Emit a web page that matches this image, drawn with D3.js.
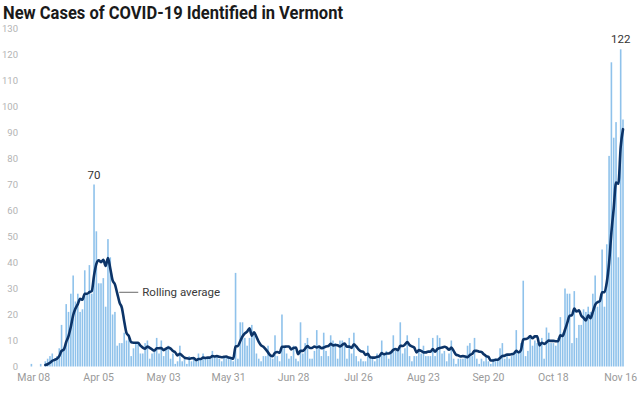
<!DOCTYPE html>
<html>
<head>
<meta charset="utf-8">
<script src="https://cdn.jsdelivr.net/npm/d3@7"></script>
<style>
  body { margin: 0; background: #fff; }
  svg { display: block; font-family: "Roboto", "DejaVu Sans", sans-serif; }
</style>
</head>
<body>
<svg width="640" height="393"></svg>
<script>
var title = "New Cases of COVID-19 Identified in Vermont";
var firstDay = "2020-03-07";

// daily new cases, one per day starting at firstDay
var cases = [
  1,0,0,0,1,0,2,3,4,5,
  3,4,7,16,7,24,21,28,35,25,
  28,21,22,37,28,39,28,70,52,32,
  32,34,23,49,42,20,21,8,9,9,
  13,10,12,4,7,9,9,5,5,9,
  10,3,5,6,11,5,10,4,7,8,
  3,5,1,2,8,2,3,1,4,2,
  3,2,5,3,5,3,3,3,6,4,
  4,3,2,4,4,3,3,2,36,3,
  17,17,11,8,11,16,12,5,3,2,
  4,4,8,4,3,12,4,2,20,8,
  5,3,4,8,3,2,17,5,9,11,
  3,3,6,14,8,4,13,6,4,12,
  10,9,3,10,10,8,3,11,5,13,
  4,2,3,2,2,8,4,3,2,5,
  4,10,5,6,3,5,12,6,7,17,
  5,7,12,4,2,4,4,11,5,8,
  4,4,4,11,4,12,11,5,6,2,
  5,10,3,1,3,3,3,4,8,9,
  4,11,3,1,3,2,4,2,1,3,
  3,3,7,9,3,4,3,4,5,14,
  5,9,33,4,6,11,8,10,9,9,
  11,3,15,13,9,9,8,11,19,13,
  30,28,28,9,29,11,16,16,22,21,
  23,21,28,35,23,25,45,23,47,81,
  117,88,94,42,122,95
];

var xTickDates = ["2020-03-08","2020-04-05","2020-05-03","2020-05-31","2020-06-28",
                  "2020-07-26","2020-08-23","2020-09-20","2020-10-18","2020-11-16"];
var yTickValues = [0,10,20,30,40,50,60,70,80,90,100,110,120,130];
var peakLabels = [
  {date: "2020-04-03", value: 70},
  {date: "2020-11-16", value: 122}
];
var avgLabel = "Rolling average";
var avgWindow = 7;

var svg = d3.select("svg");
var parseDay = d3.timeParse("%Y-%m-%d");
var fmtTick = d3.timeFormat("%b %d");

var start = parseDay(firstDay);
var days = cases.map((v, i) => {
  return {date: d3.timeDay.offset(start, i), value: v};
});

// trailing 7 day average of the daily counts
var rolling = days.slice(avgWindow - 1).map((d, i) => {
  return {date: d.date, value: d3.mean(cases.slice(i, i + avgWindow))};
});

var x = d3.scaleTime()
  .domain([days[0].date, days[days.length - 1].date])
  .range([31.4, 623]);

var y = d3.scaleLinear()
  .domain([0, 130])
  .range([366.5, 28.5]);

// title
svg.append("text")
  .attr("x", 3)
  .attr("y", 19)
  .attr("font-size", 18.5)
  .attr("font-weight", "bold")
  .attr("fill", "#1a1a1a")
  .attr("textLength", 340)
  .attr("lengthAdjust", "spacingAndGlyphs")
  .text(title);

// y tick labels
svg.append("g")
  .selectAll("text")
  .data(yTickValues)
  .enter().append("text")
  .attr("x", 18)
  .attr("y", d => y(d))
  .attr("dy", "0.35em")
  .attr("text-anchor", "end")
  .attr("font-size", 9.5)
  .attr("fill", "#b3b3b3")
  .text(d => d);

// x tick labels
svg.append("g")
  .selectAll("text")
  .data(xTickDates.map(parseDay))
  .enter().append("text")
  .attr("x", d => x(d))
  .attr("y", 381)
  .attr("text-anchor", "middle")
  .attr("font-size", 10.5)
  .attr("fill", "#9a9a9a")
  .text(d => fmtTick(d));

// bars
svg.append("g")
  .selectAll("rect")
  .data(days)
  .enter().append("rect")
  .attr("x", d => x(d.date) - 0.8)
  .attr("width", 1.6)
  .attr("y", d => y(d.value))
  .attr("height", d => y(0) - y(d.value))
  .attr("fill", "#8fc2eb");

// rolling average line
var line = d3.line()
  .x(d => x(d.date))
  .y(d => y(d.value))
  .curve(d3.curveMonotoneX);

svg.append("path")
  .datum(rolling)
  .attr("d", line)
  .attr("fill", "none")
  .attr("stroke", "#0c3468")
  .attr("stroke-width", 2.6)
  .attr("stroke-linejoin", "round")
  .attr("stroke-linecap", "round");

// peak labels
svg.append("g")
  .selectAll("text")
  .data(peakLabels)
  .enter().append("text")
  .attr("x", d => x(parseDay(d.date)))
  .attr("y", d => y(d.value) - 6)
  .attr("text-anchor", "middle")
  .attr("font-size", 11.5)
  .attr("fill", "#333")
  .text(d => d.value);

// rolling average annotation
var annDay = rolling.find(d => +d.date === +parseDay("2020-04-13"));
svg.append("line")
  .attr("x1", x(annDay.date) + 2)
  .attr("x2", x(annDay.date) + 21)
  .attr("y1", y(annDay.value) - 1)
  .attr("y2", y(annDay.value) - 1)
  .attr("stroke", "#808080")
  .attr("stroke-width", 1.2);

svg.append("text")
  .attr("x", x(annDay.date) + 25)
  .attr("y", y(annDay.value) - 1)
  .attr("dy", "0.35em")
  .attr("font-size", 11.5)
  .attr("fill", "#3a3a3a")
  .text(avgLabel);
</script>
</body>
</html>
